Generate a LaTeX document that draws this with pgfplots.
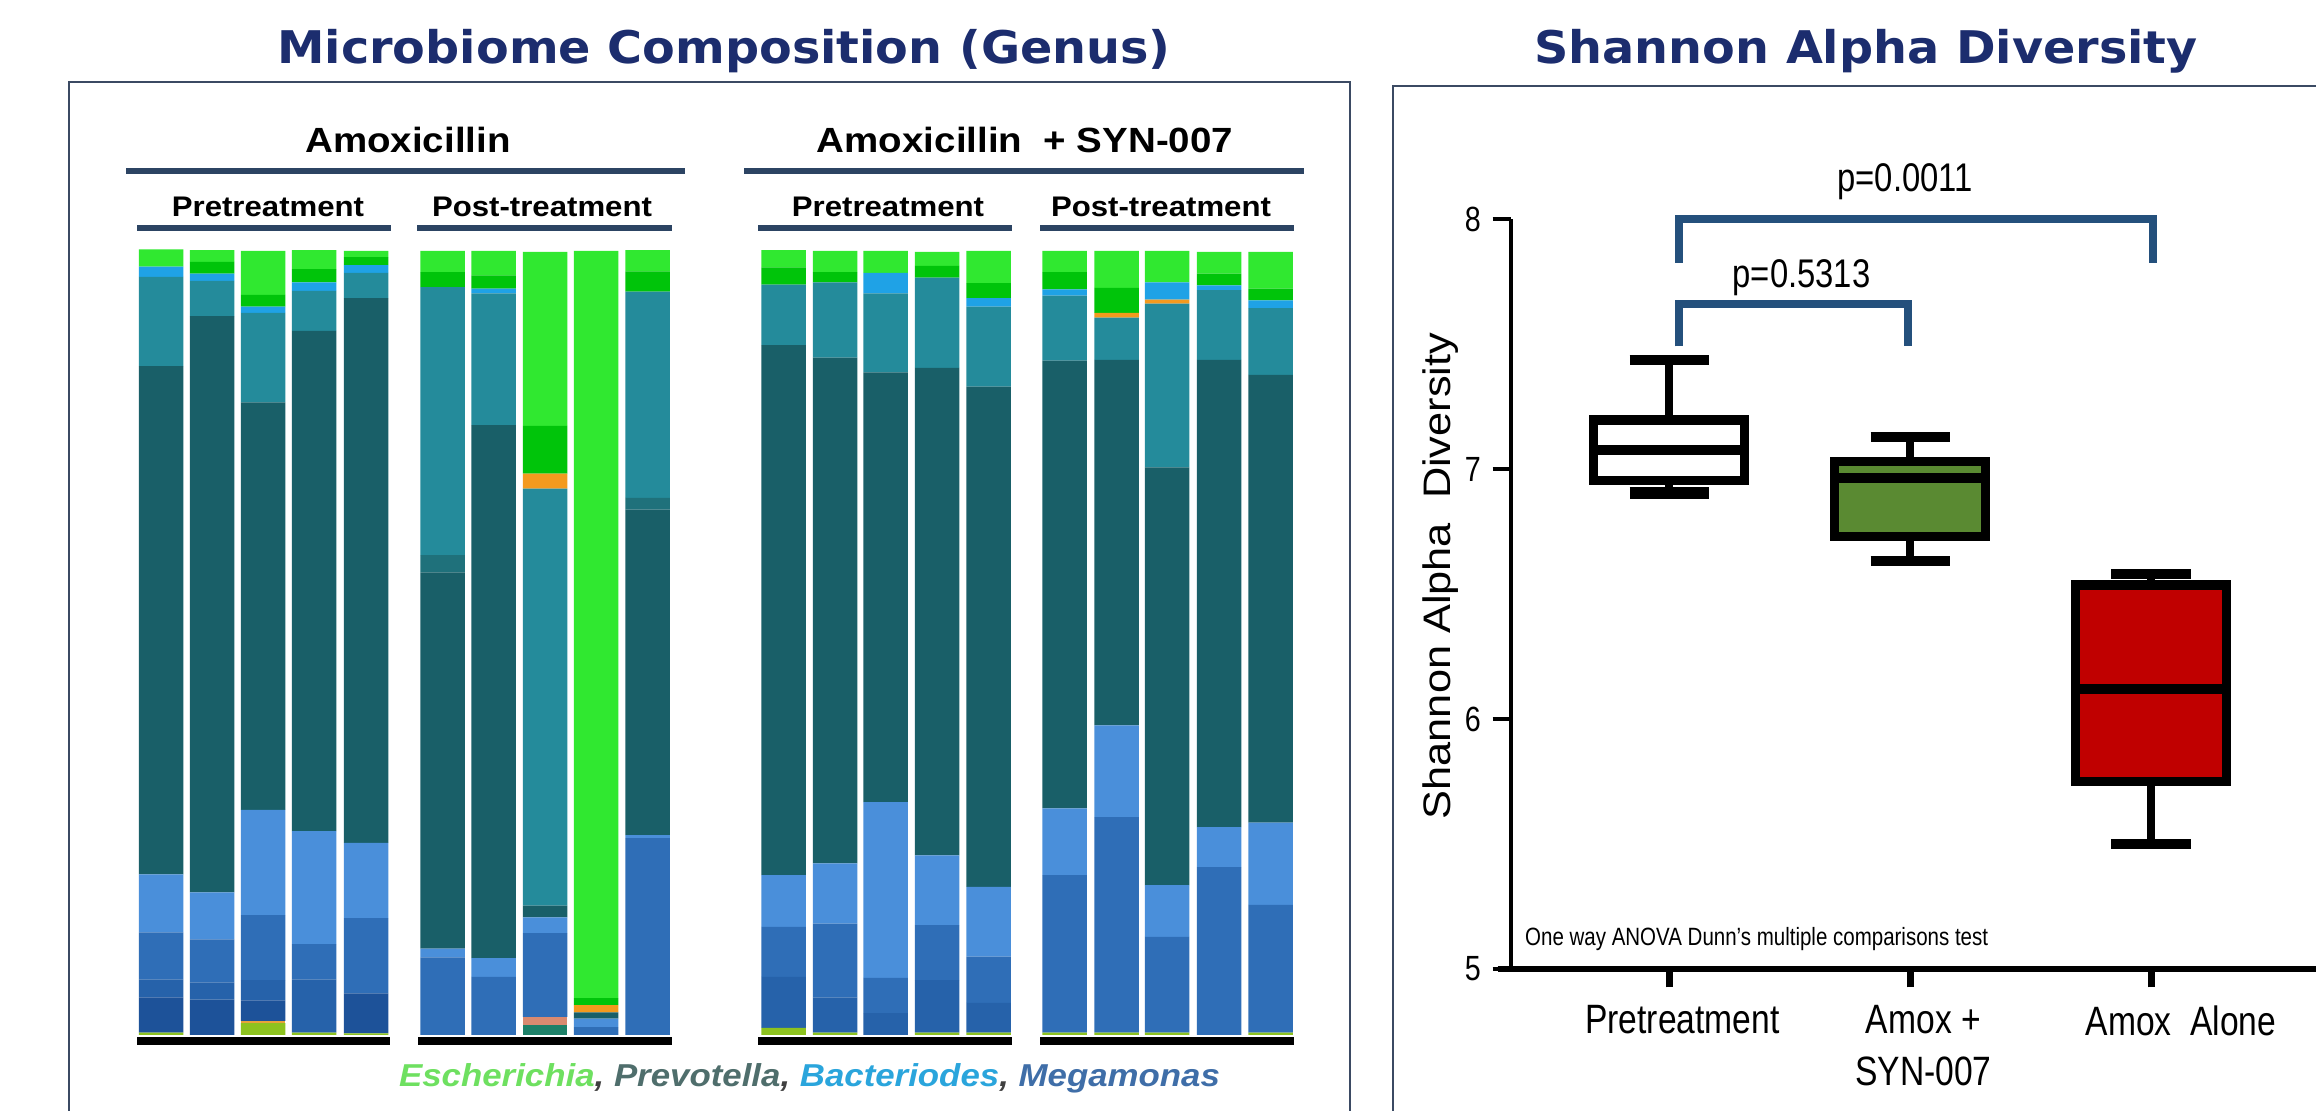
\documentclass[border=0pt]{standalone}
\usepackage{pgfplots}
\pgfplotsset{compat=1.18}
\usepackage{pgfplotstable}
\usepackage{fontspec}
\setmainfont{Liberation Sans}
\newfontfamily\narrowfont[FakeStretch=0.82]{Liberation Sans}
\newfontfamily\wideboldfont[FakeStretch=1.1]{Liberation Sans}
\newfontfamily\ylabfont[FakeStretch=1.13]{Liberation Sans}
\newfontfamily\titlefont[FakeStretch=1.06]{DejaVu Sans}

\definecolor{cBG}{HTML}{30E830}
\definecolor{cDG}{HTML}{00C40A}
\definecolor{cSB}{HTML}{1FA2E6}
\definecolor{cTeal}{HTML}{248B9B}
\definecolor{cMDT}{HTML}{1F717B}
\definecolor{cDT}{HTML}{195F68}
\definecolor{cL}{HTML}{4A8FDA}
\definecolor{cM}{HTML}{2F6EB7}
\definecolor{cD}{HTML}{2662AA}
\definecolor{cDD}{HTML}{1D5299}
\definecolor{cLime}{HTML}{8DC21F}
\definecolor{cSea}{HTML}{1D8068}
\definecolor{cSalm}{HTML}{D98A70}
\definecolor{cOr}{HTML}{F39A1E}
\definecolor{cOrLow}{HTML}{E8A33A}
\definecolor{titlecol}{HTML}{1C2D6E}
\definecolor{framecol}{HTML}{3B4A63}
\definecolor{hdrline}{HTML}{2C4463}
\definecolor{brkcol}{HTML}{24507C}
\definecolor{boxgreen}{HTML}{5A8A32}
\definecolor{boxred}{HTML}{C00000}
\definecolor{escol}{HTML}{6EE060}
\definecolor{prevcol}{HTML}{4F6E6C}
\definecolor{bactcol}{HTML}{2AA5DC}
\definecolor{megacol}{HTML}{3F6EA8}
\definecolor{commacol}{HTML}{404040}

\pgfplotstableread{
x      lime seag orlow salm b4  b3  b2   b1   dt   mdt teal orng sb  dg  bg
161    0.3  0    0     0    4.5 2.3 6.0  7.4  64.8 0   11.4 0    1.3 0   2.2
212    0    0    0     0    4.5 2.2 5.5  6.0  73.5 0   4.5  0    0.9 1.5 1.5
263    1.5  0    0.3   0    2.6 2.6 8.3  13.4 52.0 0   11.4 0    0.8 1.5 5.6
314    0.3  0    0     0    0   6.8 4.5  14.4 63.8 0   5.1  0    1.1 1.7 2.4
366    0.2  0    0     0    5.1 0   9.6  9.6  69.5 0   3.2  0    1.0 1.0 0.8
442.5  0    0    0     0    0   0   9.9  1.1  48.0 2.2 34.2 0    0   1.9 2.7
493.5  0    0    0     0    0   0   7.4  2.4  68.0 0   16.8 0    0.6 1.7 3.1
545    0    1.3  0     1.0  0   0   10.7 2.0  1.5  0   53.2 1.9  0   6.1 22.2
596    0    0    0     0    0   0   1.0  1.1  0.8  0   0    0.9  0   0.9 95.3
647.5  0    0    0     0    0   0   25.1 0.4  41.5 1.5 26.3 0    0   2.6 2.7
783.5  0.9  0    0     0    0   6.5 6.4  6.6  67.6 0   7.7  0    0   2.2 2.2
835    0.3  0    0     0    0   4.5 9.4  7.7  64.5 0   9.6  0    0   1.3 2.7
885.5  0    0    0     0    0   2.8 4.5  22.4 54.8 0   10.1 0    2.6 0   2.8
937    0.3  0    0     0    0   6.7 7.0  8.9  62.2 0   11.5 0    0   1.5 1.8
988.5  0.3  0    0     0    0   3.8 5.9  8.9  63.8 0   10.2 0    1.1 1.9 4.1
1064.5 0.3  0    0     0    0   0   20.1 8.5  57.1 0   8.3  0    0.8 2.2 2.7
1116.5 0.3  0    0     0    0   0   27.5 11.7 46.6 0   5.4  0.6  0   3.2 4.7
1167   0.3  0    0     0    0   0   12.2 6.6  53.3 0   20.9 0.5  2.2 0   4.0
1219   0    0    0     0    0   0   21.4 5.1  59.6 0   8.9  0    0.6 1.5 2.8
1270.5 0.3  0    0     0    0   0   16.3 10.5 57.1 0   8.5  0    1.0 1.5 4.7
}\bars

\begin{document}
\begin{tikzpicture}
\useasboundingbox (0,0) rectangle (694.8pt,333.3pt);
\clip (0,0) rectangle (694.8pt,333.3pt);
\fill[white] (0,0) rectangle (694.8pt,333.3pt);

% ---------------- left panel: stacked bars ----------------
\begin{axis}[at={(20.7pt,-1.2pt)}, anchor=south west, scale only axis,
  width=384.3pt, height=309.9pt,
  xmin=69, xmax=1350, ymin=-10.204, ymax=121.556,
  xtick=\empty, ytick=\empty,
  axis line style={draw=framecol, line width=0.6pt},
  ybar stacked, bar width=44.5, clip=false]
\addplot[fill=cLime, draw=none] table[x=x,y=lime]{\bars};
\addplot[fill=cSea, draw=none] table[x=x,y=seag]{\bars};
\addplot[fill=cOrLow, draw=none] table[x=x,y=orlow]{\bars};
\addplot[fill=cSalm, draw=none] table[x=x,y=salm]{\bars};
\addplot[fill=cDD, draw=none] table[x=x,y=b4]{\bars};
\addplot[fill=cD, draw=none] table[x=x,y=b3]{\bars};
\addplot[fill=cM, draw=none] table[x=x,y=b2]{\bars};
\addplot[fill=cL, draw=none] table[x=x,y=b1]{\bars};
\addplot[fill=cDT, draw=none] table[x=x,y=dt]{\bars};
\addplot[fill=cMDT, draw=none] table[x=x,y=mdt]{\bars};
\addplot[fill=cTeal, draw=none] table[x=x,y=teal]{\bars};
\addplot[fill=cOr, draw=none] table[x=x,y=orng]{\bars};
\addplot[fill=cSB, draw=none] table[x=x,y=sb]{\bars};
\addplot[fill=cDG, draw=none] table[x=x,y=dg]{\bars};
\addplot[fill=cBG, draw=none] table[x=x,y=bg]{\bars};
\end{axis}

% ---------------- right panel: box plot ----------------
\begin{axis}[at={(453.3pt,42.6pt)}, anchor=south west, scale only axis,
  width=245.7pt, height=225pt,
  xmin=0.344, xmax=3.743, ymin=5, ymax=8, clip=false,
  axis x line*=bottom, axis y line*=left, separate axis lines,
  x axis line style={line width=2pt, -, shorten <=-4pt},
  y axis line style={line width=1.3pt, -},
  xtick={1,2,3}, ytick={5,6,7,8},
  xticklabels={Pretreatment, {Amox +\\SYN-007}, {\hspace*{10pt}Amox\ \ Alone}},
  tick align=outside, major tick length=5.5pt,
  x tick style={line width=2.1pt, black},
  y tick style={line width=1.2pt, black},
  /pgf/number format/assume math mode=true,
  xticklabel style={font=\narrowfont\fontsize{12.3}{15.5}\selectfont, align=center, anchor=north, xshift=4pt, yshift=-2pt},
  yticklabel style={font=\narrowfont\fontsize{10.5}{12}\selectfont},
]
% whiskers
\addplot[black, line width=2.2pt] coordinates {(1,7.19) (1,7.434)};
\addplot[black, line width=2.2pt] coordinates {(1,6.955) (1,6.90)};
\addplot[black, line width=2.2pt] coordinates {(2,7.03) (2,7.126)};
\addplot[black, line width=2.2pt] coordinates {(2,6.73) (2,6.63)};
\addplot[black, line width=2.2pt] coordinates {(3,6.536) (3,6.58)};
\addplot[black, line width=2.2pt] coordinates {(3,5.75) (3,5.50)};
% boxes (Q1 to Q3)
\addplot[draw=black, fill=white, line width=2.8pt, line join=miter]
  coordinates {(0.686,6.955) (1.314,6.955) (1.314,7.196) (0.686,7.196)} -- cycle;
\addplot[draw=black, fill=boxgreen, line width=2.8pt, line join=miter]
  coordinates {(1.686,6.73) (2.314,6.73) (2.314,7.03) (1.686,7.03)} -- cycle;
\addplot[draw=black, fill=boxred, line width=2.8pt, line join=miter]
  coordinates {(2.686,5.75) (3.314,5.75) (3.314,6.536) (2.686,6.536)} -- cycle;
% medians
\addplot[black, line width=2.9pt] coordinates {(0.686,7.076) (1.314,7.076)};
\addplot[black, line width=2.9pt] coordinates {(1.686,6.965) (2.314,6.965)};
\addplot[black, line width=2.9pt] coordinates {(2.686,6.12) (3.314,6.12)};
% whisker caps
\addplot[black, line width=3pt] coordinates {(0.836,7.434) (1.164,7.434)};
\addplot[black, line width=3.6pt] coordinates {(0.836,6.905) (1.164,6.905)};
\addplot[black, line width=3pt] coordinates {(1.836,7.126) (2.164,7.126)};
\addplot[black, line width=3pt] coordinates {(1.836,6.63) (2.164,6.63)};
\addplot[black, line width=3pt] coordinates {(2.836,6.58) (3.164,6.58)};
\addplot[black, line width=3pt] coordinates {(2.836,5.50) (3.164,5.50)};
% significance brackets
\addplot[brkcol, line width=2.4pt, line join=miter] coordinates {(1.04,7.825) (1.04,8.0) (3.01,8.0) (3.01,7.825)};
\addplot[brkcol, line width=2.4pt, line join=miter] coordinates {(1.04,7.49) (1.04,7.66) (1.99,7.66) (1.99,7.49)};
\node[font=\narrowfont\fontsize{12}{14}\selectfont] at (axis cs:1.98,8.15) {p=0.0011};
\node[font=\narrowfont\fontsize{12}{14}\selectfont] at (axis cs:1.55,7.765) {p=0.5313};
\node[anchor=west, inner sep=0pt, font=\narrowfont\fontsize{7.5}{9}\selectfont] at (axis cs:0.40,5.12) {One way ANOVA Dunn’s multiple comparisons test};
\end{axis}

% ---------------- annotations in pixel coordinates ----------------
\begin{scope}[yshift=333.3pt, x=0.3pt, y=-0.3pt]
  % right panel frame
  \draw[framecol, line width=0.6pt] (1393,1120) -- (1393,86) -- (2330,86);
  % titles
  \node[anchor=base, text=titlecol, font=\titlefont\bfseries\fontsize{13.5}{16}\selectfont] at (724,64) {Microbiome Composition (Genus)};
  \node[anchor=base, text=titlecol, font=\titlefont\bfseries\fontsize{13.5}{16}\selectfont] at (1866,64) {Shannon Alpha Diversity};
  % headers
  \node[anchor=base, font=\wideboldfont\bfseries\fontsize{10.5}{12}\selectfont] at (408,153) {Amoxicillin};
  \node[anchor=base, font=\wideboldfont\bfseries\fontsize{10.5}{12}\selectfont] at (1025,153) {Amoxicillin\ \ + SYN-007};
  \draw[hdrline, line width=1.8pt] (126,171) -- (685,171);
  \draw[hdrline, line width=1.8pt] (744,171) -- (1304,171);
  \node[anchor=base, font=\wideboldfont\bfseries\fontsize{8.5}{10}\selectfont] at (268,217) {Pretreatment};
  \node[anchor=base, font=\wideboldfont\bfseries\fontsize{8.5}{10}\selectfont] at (542,217) {Post-treatment};
  \node[anchor=base, font=\wideboldfont\bfseries\fontsize{8.5}{10}\selectfont] at (888,217) {Pretreatment};
  \node[anchor=base, font=\wideboldfont\bfseries\fontsize{8.5}{10}\selectfont] at (1161,217) {Post-treatment};
  \draw[hdrline, line width=1.8pt] (137,228) -- (391,228);
  \draw[hdrline, line width=1.8pt] (417,228) -- (672,228);
  \draw[hdrline, line width=1.8pt] (758,228) -- (1012,228);
  \draw[hdrline, line width=1.8pt] (1040,228) -- (1294,228);
  % black baselines
  \draw[black, line width=2.4pt] (137,1041) -- (390,1041);
  \draw[black, line width=2.4pt] (418,1041) -- (672,1041);
  \draw[black, line width=2.4pt] (758,1041) -- (1012,1041);
  \draw[black, line width=2.4pt] (1040,1041) -- (1294,1041);
  % genus legend
  \node[anchor=base, font=\wideboldfont\bfseries\itshape\fontsize{9.5}{11}\selectfont] at (809.5,1086)
    {\textcolor{escol}{Escherichia}\textcolor{commacol}{,} \textcolor{prevcol}{Prevotella}\textcolor{commacol}{,} \textcolor{bactcol}{Bacteriodes}\textcolor{commacol}{,} \textcolor{megacol}{Megamonas}};
  % y label of box plot
  \node[rotate=90, font=\ylabfont\fontsize{11.5}{13}\selectfont] at (1441,576) {Shannon Alpha\ \ Diversity};
\end{scope}
\end{tikzpicture}
\end{document}
